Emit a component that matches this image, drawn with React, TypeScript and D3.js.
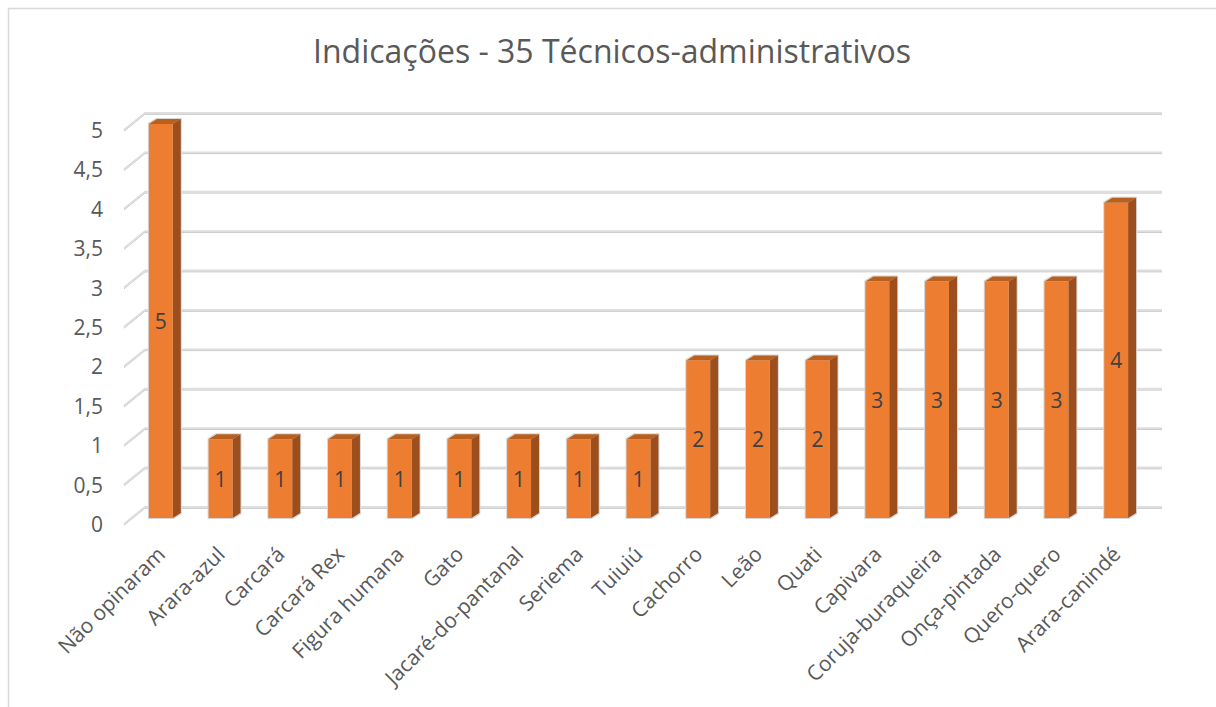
import React from "react";
import * as d3 from "d3";

const title = "Indicações - 35 Técnicos-administrativos";
const categories = [
  "Não opinaram", "Arara-azul", "Carcará", "Carcará Rex", "Figura humana", "Gato",
  "Jacaré-do-pantanal", "Seriema", "Tuiuiú", "Cachorro", "Leão", "Quati",
  "Capivara", "Coruja-buraqueira", "Onça-pintada", "Quero-quero", "Arara-canindé",
];
const values = [5, 1, 1, 1, 1, 1, 1, 1, 1, 2, 2, 2, 3, 3, 3, 3, 4];
const yTicks = [0, 0.5, 1, 1.5, 2, 2.5, 3, 3.5, 4, 4.5, 5];
const yTickLabels = ["0", "0,5", "1", "1,5", "2", "2,5", "3", "3,5", "4", "4,5", "5"];

const W = 1216;
const H = 707;
const FONT = "'Open Sans', 'DejaVu Sans', sans-serif";
const TEXT = "#595959";

export default function App() {
  // front plane (bars)
  const x = d3.scaleBand<string>().domain(categories).range([131, 1146]).paddingInner(0.6).paddingOuter(0.3);
  const y = d3.scaleLinear().domain([0, 5]).range([518, 124]);
  // back wall offset
  const wallX0 = 145, wallX1 = 1162, backDY = -11;
  const sideDX = 21, sideDY = 17;
  const depthX = 8, depthY = 5;
  const bw = x.bandwidth();

  return (
    <svg width={W} height={H} style={{ position: "absolute", left: 0, top: 0, fontFamily: FONT }}>
      <rect x={0} y={0} width={W} height={H} fill="#fff" />
      <rect x={8.5} y={8.5} width={1230} height={720} fill="none" stroke="#d9d9d9" strokeWidth={1.5} />
      <text x={612} y={63} textAnchor="middle" fontSize={32} fill={TEXT}>{title}</text>

      {yTicks.map((t, i) => {
        const yb = y(t) + backDY;
        return (
          <g key={"g" + i}>
            <polyline points={`${wallX0 - sideDX},${yb + sideDY} ${wallX0},${yb} ${wallX1},${yb}`} fill="none" stroke="#bdbdbd" strokeWidth={1} transform="translate(0,1.2)" />
            <polyline points={`${wallX0 - sideDX},${yb + sideDY} ${wallX0},${yb} ${wallX1},${yb}`} fill="none" stroke="#dedede" strokeWidth={2} />
            <text x={103} y={yb + sideDY} textAnchor="end" dominantBaseline="central" fontSize={21} fill={TEXT}>{yTickLabels[i]}</text>
          </g>
        );
      })}

      {categories.map((c, i) => {
        const x0 = x(c)!;
        const yt = y(values[i]);
        const yb = y(0);
        return (
          <g key={"b" + i}>
            <path d={`M${x0 - 1},${yb + 1} L${x0 - 1},${yt - 1} L${x0 + depthX - 1},${yt - depthY - 1} L${x0 + bw + depthX + 1},${yt - depthY - 1} L${x0 + bw + depthX + 1},${yb - depthY + 1} L${x0 + bw + 1},${yb + 1} Z`} fill="#d6d6d6" />
            <path d={`M${x0},${yt} L${x0 + depthX},${yt - depthY} L${x0 + bw + depthX},${yt - depthY} L${x0 + bw},${yt} Z`} fill="#b9601f" />
            <path d={`M${x0 + bw},${yt} L${x0 + bw + depthX},${yt - depthY} L${x0 + bw + depthX},${yb - depthY} L${x0 + bw},${yb} Z`} fill="#9c4e1c" />
            <rect x={x0} y={yt} width={bw} height={yb - yt} fill="#ed7d31" />
            <text x={x0 + bw / 2} y={(yt + yb) / 2} textAnchor="middle" dominantBaseline="central" fontSize={21} fill="#404040">{values[i]}</text>
            <text transform={`translate(${x0 + bw / 2},550) rotate(-45)`} textAnchor="end" dominantBaseline="central" fontSize={21} fill={TEXT}>{c}</text>
          </g>
        );
      })}
    </svg>
  );
}
